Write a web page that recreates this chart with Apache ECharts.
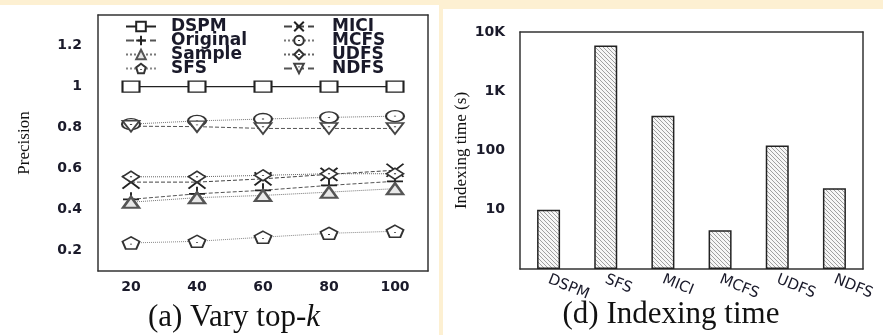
<!DOCTYPE html>
<html>
<head>
<meta charset="utf-8">
<script src="https://cdn.jsdelivr.net/npm/echarts@6/dist/echarts.min.js"></script>
<style>
  html, body { margin: 0; padding: 0; }
  #chart { width: 883px; height: 335px; }
</style>
</head>
<body>
<div id="chart"></div>
<script>
// (a) precision vs top-k
var topK = ['20', '40', '60', '80', '100'];
var dspm = [1, 1, 1, 1, 1];
var original = [0.45, 0.477, 0.494, 0.518, 0.538];
var sample = [0.436, 0.458, 0.469, 0.485, 0.502];
var sfs = [0.237, 0.245, 0.265, 0.284, 0.294];
var mici = [0.534, 0.534, 0.55, 0.572, 0.592];
var mcfs = [0.817, 0.833, 0.842, 0.85, 0.856];
var udfs = [0.56, 0.56, 0.567, 0.575, 0.575];
var ndfs = [0.807, 0.805, 0.796, 0.796, 0.796];

// (d) indexing time (s)
var methods = ['DSPM', 'SFS', 'MICI', 'MCFS', 'UDFS', 'NDFS'];
var indexTime = [10, 5900, 385, 4.5, 121, 23];

var tickFont = { fontFamily: 'DejaVu Sans', fontSize: 14, fontWeight: 'bold', color: '#1a1a2a' };

// hatched fill for bars
var hatch = document.createElement('canvas');
hatch.width = 4;
hatch.height = 4;
var hc = hatch.getContext('2d');
hc.fillStyle = '#f6f6f6';
hc.fillRect(0, 0, 4, 4);
hc.strokeStyle = '#8a8a8a';
hc.lineWidth = 0.8;
for (var k = -1; k <= 1; k++) {
  hc.beginPath();
  hc.moveTo(k * 4, 0);
  hc.lineTo(k * 4 + 4, 4);
  hc.stroke();
}

function lineSeries(name, data, symbol, size, lineType, lineColor, mark) {
  mark = mark || {};
  return {
    name: name,
    type: 'line',
    xAxisIndex: 0,
    yAxisIndex: 0,
    data: data,
    symbol: symbol,
    symbolSize: size,
    showAllSymbol: true,
    lineStyle: { color: lineColor, width: lineType === 'solid' ? 1.3 : 1, type: lineType },
    itemStyle: {
      color: mark.fill || '#fff',
      borderColor: mark.stroke || '#333',
      borderWidth: mark.width || 1.7
    },
    emphasis: { disabled: true }
  };
}

var legendText = { fontFamily: 'DejaVu Sans', fontSize: 17, fontWeight: 'bold', color: '#1a1a2a', lineHeight: 11 };

var chart = echarts.init(document.getElementById('chart'));

var option = {
  animation: false,
  backgroundColor: '#fdf0d2',
  graphic: [
    { type: 'rect', z: -10, shape: { x: 0, y: 5, width: 439, height: 330 }, style: { fill: '#fff' } },
    { type: 'rect', z: -10, shape: { x: 443, y: 9, width: 440, height: 326 }, style: { fill: '#fff' } }
  ],
  title: [
    {
      text: '(a) Vary top-{k|k}',
      left: 229,
      top: 297,
      textAlign: 'center',
      textStyle: {
        fontFamily: 'Liberation Serif', fontSize: 31, fontWeight: 'normal', color: '#111',
        rich: { k: { fontFamily: 'Liberation Serif', fontSize: 31, fontStyle: 'italic', color: '#111' } }
      }
    },
    {
      text: '(d) Indexing time',
      left: 666,
      top: 294,
      textAlign: 'center',
      textStyle: { fontFamily: 'Liberation Serif', fontSize: 31, fontWeight: 'normal', color: '#111' }
    }
  ],
  legend: [
    {
      data: ['DSPM', 'Original', 'Sample', 'SFS'],
      orient: 'vertical',
      left: 125,
      top: 18,
      padding: 0,
      itemWidth: 30,
      itemHeight: 12,
      itemGap: -3,
      selectedMode: false,
      textStyle: Object.assign({ padding: [0, 0, 0, 10] }, legendText)
    },
    {
      data: ['MICI', 'MCFS', 'UDFS', 'NDFS'],
      orient: 'vertical',
      left: 283,
      top: 18,
      padding: 0,
      itemWidth: 30,
      itemHeight: 12,
      itemGap: -3,
      selectedMode: false,
      textStyle: Object.assign({ padding: [0, 0, 0, 13] }, legendText)
    }
  ],
  grid: [
    { left: 98, top: 15, width: 330, height: 256 },
    { left: 520, top: 32, width: 343, height: 237 }
  ],
  xAxis: [
    {
      gridIndex: 0, type: 'category', data: topK, position: 'bottom',
      axisLine: { lineStyle: { color: '#333', width: 1.5 } },
      axisTick: { inside: true, alignWithLabel: true, length: 4, lineStyle: { color: '#333' } },
      axisLabel: Object.assign({ margin: 9 }, tickFont),
      splitLine: { show: false }
    },
    {
      gridIndex: 0, type: 'category', data: topK, position: 'top',
      axisLine: { lineStyle: { color: '#333', width: 1.5 } },
      axisTick: { inside: true, alignWithLabel: true, length: 4, lineStyle: { color: '#333' } },
      axisLabel: { show: false },
      splitLine: { show: false }
    },
    {
      gridIndex: 1, type: 'category', data: methods, position: 'bottom',
      axisLine: { lineStyle: { color: '#333', width: 1.5 } },
      axisTick: { inside: true, alignWithLabel: true, length: 4, lineStyle: { color: '#333' } },
      axisLabel: { rotate: -22, margin: 10, fontFamily: 'DejaVu Sans', fontSize: 15, color: '#1a1a2a', interval: 0 },
      splitLine: { show: false }
    },
    {
      gridIndex: 1, type: 'category', data: methods, position: 'top',
      axisLine: { lineStyle: { color: '#333', width: 1.5 } },
      axisTick: { inside: true, alignWithLabel: true, length: 4, lineStyle: { color: '#333' } },
      axisLabel: { show: false },
      splitLine: { show: false }
    }
  ],
  yAxis: [
    {
      gridIndex: 0, type: 'value', min: 0.1, max: 1.35, splitNumber: 6, position: 'left',
      name: 'Precision', nameLocation: 'middle', nameGap: 65,
      nameTextStyle: { fontFamily: 'Liberation Serif', fontSize: 17, color: '#111' },
      axisLine: { show: true, lineStyle: { color: '#333', width: 1.5 } },
      axisTick: { inside: true, length: 4, lineStyle: { color: '#333' } },
      axisLabel: Object.assign({
        margin: 16,
        formatter: function (v) {
          var r = Math.round(v * 10);
          return (r % 2 === 0 && Math.abs(v * 10 - r) < 1e-6) ? String(+v.toFixed(1)) : '';
        }
      }, tickFont),
      splitLine: { show: false }
    },
    {
      gridIndex: 0, type: 'value', min: 0.1, max: 1.35, splitNumber: 6, position: 'right',
      axisLine: { show: true, lineStyle: { color: '#333', width: 1.5 } },
      axisTick: { inside: true, length: 4, lineStyle: { color: '#333' } },
      axisLabel: { show: false },
      splitLine: { show: false }
    },
    {
      gridIndex: 1, type: 'log', logBase: 10, min: 1, max: 10000, position: 'left',
      name: 'Indexing time (s)', nameLocation: 'middle', nameGap: 50,
      nameTextStyle: { fontFamily: 'Liberation Serif', fontSize: 17, color: '#111' },
      axisLine: { show: true, lineStyle: { color: '#333', width: 1.5 } },
      axisTick: { inside: true, length: 4, lineStyle: { color: '#333' } },
      axisLabel: Object.assign({
        margin: 15,
        formatter: function (v) {
          if (v >= 1000) return (v / 1000) + 'K';
          if (v <= 1) return '';
          return String(v);
        }
      }, tickFont),
      splitLine: { show: false }
    },
    {
      gridIndex: 1, type: 'log', logBase: 10, min: 1, max: 10000, position: 'right',
      axisLine: { show: true, lineStyle: { color: '#333', width: 1.5 } },
      axisTick: { inside: true, length: 4, lineStyle: { color: '#333' } },
      axisLabel: { show: false },
      splitLine: { show: false }
    }
  ],
  series: [
    lineSeries('DSPM', dspm, 'rect', [17, 11], 'solid', '#222', { stroke: '#222' }),
    lineSeries('Original', original, 'path://M5,0L5,10M0,5L10,5', [16, 14], 'dashed', '#555', { stroke: '#222', width: 1.8 }),
    lineSeries('Sample', sample, 'triangle', [16, 11], 'dotted', '#777', { stroke: '#555', width: 2.4, fill: '#e8e8e8' }),
    lineSeries('SFS', sfs, 'path://M5,0L10,3.8L8.1,10L1.9,10L0,3.8ZM5,5.6L5,6.3', [17, 12], 'dotted', '#888'),
    lineSeries('MICI', mici, 'path://M0,0L10,10M10,0L0,10', [17, 13], 'dashed', '#444', { stroke: '#222', width: 1.8 }),
    lineSeries('MCFS', mcfs, 'path://M0,5A5,5 0 1,1 10,5A5,5 0 1,1 0,5ZM5,4.6L5,5.4', [18, 11], 'dotted', '#777'),
    lineSeries('UDFS', udfs, 'path://M5,0L10,5L5,10L0,5ZM5,4.6L5,5.4', [17, 11], 'dotted', '#666'),
    lineSeries('NDFS', ndfs, 'path://M0,0L10,0L5,10ZM5,3L5,3.8', [17, 11], 'dashed', '#555', { stroke: '#444', width: 1.8 }),
    {
      name: 'Indexing time',
      type: 'bar',
      xAxisIndex: 2,
      yAxisIndex: 2,
      data: indexTime,
      barWidth: 23,
      itemStyle: {
        color: { image: hatch, repeat: 'repeat' },
        borderColor: '#222',
        borderWidth: 1.5
      },
      emphasis: { disabled: true }
    }
  ]
};

chart.setOption(option);
</script>
</body>
</html>
